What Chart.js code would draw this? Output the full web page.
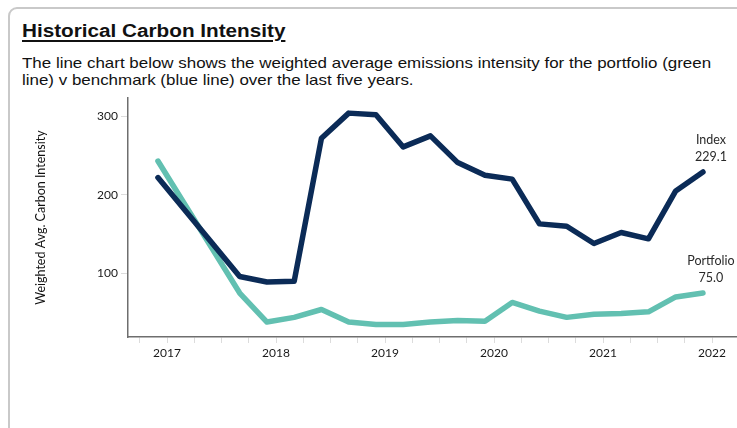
<!DOCTYPE html>
<html>
<head>
<meta charset="utf-8">
<script src="https://cdn.jsdelivr.net/npm/chart.js@4"></script>
<style>
	html, body { margin: 0; padding: 0; background: #fff; width: 737px; height: 428px; overflow: hidden; }
	.card {
		position: absolute; left: 8px; top: 7px; width: 800px; height: 500px;
		border: 2px solid #c9c9c9; border-radius: 9px; box-sizing: border-box;
	}
	h2 {
		position: absolute; left: 22px; top: 21px; margin: 0;
		font: bold 18px "Liberation Sans", Arial, sans-serif; color: #111;
		text-decoration: underline; text-decoration-thickness: 2px; text-underline-offset: 3px;
		transform: scaleX(1.15); transform-origin: left top; white-space: nowrap;
	}
	p.desc {
		position: absolute; left: 22px; top: 55px; margin: 0; white-space: nowrap;
		font: 14.5px/17px "Liberation Sans", Arial, sans-serif; color: #111;
		transform: scaleX(1.168); transform-origin: left top;
	}
	#chartBox { position: absolute; left: 0; top: 88px; width: 737px; height: 300px; }
</style>
</head>
<body>
<div class="card"></div>
<h2>Historical Carbon Intensity</h2>
<p class="desc">The line chart below shows the weighted average emissions intensity for the portfolio (green<br>line) v benchmark (blue line) over the last five years.</p>
<div id="chartBox"><canvas id="line-chart"></canvas></div>

<script>
// quarterly observations (year-month)
var quarters = ["2016-12", "2017-03", "2017-06", "2017-09", "2017-12", "2018-03", "2018-06",
	"2018-09", "2018-12", "2019-03", "2019-06", "2019-09", "2019-12", "2020-03", "2020-06",
	"2020-09", "2020-12", "2021-03", "2021-06", "2021-09", "2021-12"];

var indexValues = [222, null, null, 96, 89, 90, 272, 304, 302, 261, 275, 241, 225, 220, 163,
	160, 138, 152, 144, 205, 229.1];

var portfolioValues = [243, null, null, 75, 38, 44, 54, 38, 35, 35, 38, 40, 39, 63, 52,
	44, 48, 49, 51, 70, 75.0];

var seriesNames = ["Index", "Portfolio"];
var yTicks = [100, 200, 300];
var years = [2017, 2018, 2019, 2020, 2021, 2022];

var FONT = "Lato, 'Open Sans', sans-serif";

function toYear(q) {
	var parts = q.split("-");
	return parseInt(parts[0]) + (parseInt(parts[1]) - 1) / 12;
}

function points(values) {
	var out = [];
	for (var i = 0; i < quarters.length; i++) {
		out.push({ x: toYear(quarters[i]), y: values[i] });
	}
	return out;
}

// names + last value above the end of each line
var endLabels = {
	id: "endLabels",
	afterDatasetsDraw: function(chart) {
		var c = chart.ctx;
		c.save();
		c.font = "12.5px " + FONT;
		c.fillStyle = "#2a2a2a";
		c.textAlign = "center";
		c.textBaseline = "middle";
		chart.data.datasets.forEach(function(ds, i) {
			var meta = chart.getDatasetMeta(i);
			var last = meta.data[meta.data.length - 1];
			var v = ds.data[ds.data.length - 1].y;
			c.fillText(seriesNames[i], last.x + 8, last.y - 32);
			c.fillText(v.toFixed(1), last.x + 8, last.y - 15);
		});
		c.restore();
	}
};

var ctx = document.getElementById("line-chart");

var chart = new Chart(ctx, {
	type: "line",
	data: {
		datasets: [
			{
				label: seriesNames[0],
				data: points(indexValues),
				borderColor: "#0b2b57",
				backgroundColor: "#0b2b57",
				borderWidth: 5.5,
				pointRadius: 0,
				spanGaps: true,
				tension: 0
			},
			{
				label: seriesNames[1],
				data: points(portfolioValues),
				borderColor: "#62c0b1",
				backgroundColor: "#62c0b1",
				borderWidth: 5.5,
				pointRadius: 0,
				spanGaps: true,
				tension: 0
			}
		]
	},
	options: {
		responsive: true,
		maintainAspectRatio: false,
		animation: false,
		layout: { padding: { top: 9, right: 0, bottom: 21, left: 0 } },
		elements: { line: { borderCapStyle: "round", borderJoinStyle: "round" } },
		plugins: {
			legend: { display: false },
			tooltip: { enabled: false }
		},
		scales: {
			x: {
				type: "linear",
				min: 2016.642,
				max: 2022.229,
				afterBuildTicks: function(scale) {
					var t = [];
					for (var v = 2016.75; v <= 2022.2; v += 0.25) t.push({ value: v });
					scale.ticks = t;
				},
				afterFit: function(scale) { scale.height = 30; },
				ticks: {
					autoSkip: false,
					maxRotation: 0,
					padding: 3,
					color: "#1a1a1a",
					font: { family: FONT, size: 12 },
					callback: function(v) {
						var r = Math.round(v);
						return (Math.abs(v - r) < 0.01 && years.indexOf(r) >= 0) ? String(r) : "";
					}
				},
				grid: { drawOnChartArea: false, drawTicks: true, tickLength: 6, color: "#dcdcdc" },
				border: { color: "#6e6e6e", width: 1.5 }
			},
			y: {
				min: 19,
				max: 323,
				afterBuildTicks: function(scale) {
					scale.ticks = yTicks.map(function(v) { return { value: v }; });
				},
				afterFit: function(scale) { scale.width = 128; },
				ticks: {
					padding: 3,
					color: "#1a1a1a",
					font: { family: FONT, size: 12 }
				},
				grid: { drawOnChartArea: false, drawTicks: true, tickLength: 7, color: "#dcdcdc" },
				border: { color: "#6e6e6e", width: 1.5 },
				title: {
					display: true,
					text: "Weighted Avg. Carbon Intensity",
					color: "#111",
					font: { family: FONT, size: 12.5 },
					padding: { top: 33, bottom: 0 }
				}
			}
		}
	},
	plugins: [endLabels]
});
</script>
</body>
</html>
